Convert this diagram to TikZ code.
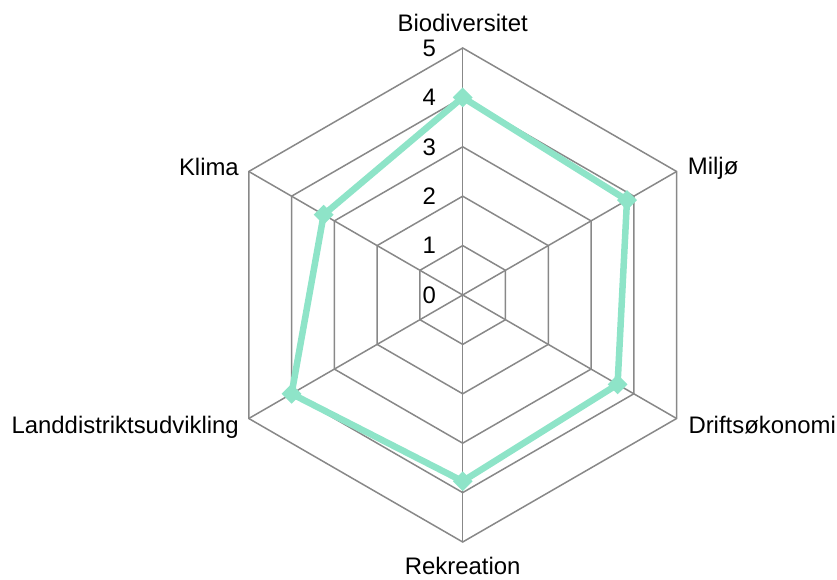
\documentclass[tikz,border=0pt]{standalone}
\usepackage{fontspec}
\setmainfont{Liberation Sans}
\usetikzlibrary{shapes.geometric,calc}
\definecolor{mint}{RGB}{142,228,200}
\definecolor{gridgray}{RGB}{136,136,136}
\begin{document}
\begin{tikzpicture}[x=1bp,y=1bp,
  gridline/.style={draw=gridgray,line width=1.5bp},
  series/.style={draw=mint,line width=6.5bp,line join=round},
  marker/.style={diamond,fill=mint,draw=none,inner sep=0,minimum width=20bp,minimum height=20bp},
  axlabel/.style={font=\fontsize{24}{28}\selectfont,inner sep=0},
  ticklabel/.style={font=\fontsize{24}{28}\selectfont,inner sep=0}]
\useasboundingbox (0,0) rectangle (837,580);
\coordinate (C) at (462.7,285);
\def\u{49.4}
% rings
\foreach \r in {1,...,5}
  \draw[gridline,shift={(C)}] (90:\r*\u) -- (30:\r*\u) -- (-30:\r*\u) -- (-90:\r*\u) -- (210:\r*\u) -- (150:\r*\u) -- cycle;
% spokes
\foreach \a/\n in {90/bio,30/mil,-30/dri,-90/rek,210/lan,150/kli}{
  \coordinate (v\n) at ($(C)+(\a:5*\u)$);
}
\foreach \n in {bio,mil,dri,rek,lan,kli} \draw[gridline] (C) -- (v\n);
% tick labels
\foreach \k in {0,...,5}
  \node[ticklabel] (t\k) at (429.3,285+\k*\u) {\k};
% axis labels
\node[axlabel,anchor=base] (lbio) at (462.7,548.3) {Biodiversitet};
\node[axlabel,anchor=base west] (lmil) at (687.7,405) {Miljø};
\node[axlabel,anchor=base west] (ldri) at (688.3,146.5) {Driftsøkonomi};
\node[axlabel,anchor=base] (lrek) at (462.7,5) {Rekreation};
\node[axlabel,anchor=base east] (llan) at (239,146.5) {Landdistriktsudvikling};
\node[axlabel,anchor=base east] (lkli) at (239,404) {Klima};
% data
\foreach \a/\n/\v in {90/bio/4.0,30/mil/3.84,-30/dri/3.62,-90/rek/3.77,210/lan/4.0,150/kli/3.25}{
  \coordinate (d\n) at ($(C)+(\a:\v*\u)$);
}
\draw[series] (dbio) -- (dmil) -- (ddri) -- (drek) -- (dlan) -- (dkli) -- cycle;
\foreach \n in {bio,mil,dri,rek,lan,kli} \node[marker] (m\n) at (d\n) {};
\end{tikzpicture}
\end{document}
